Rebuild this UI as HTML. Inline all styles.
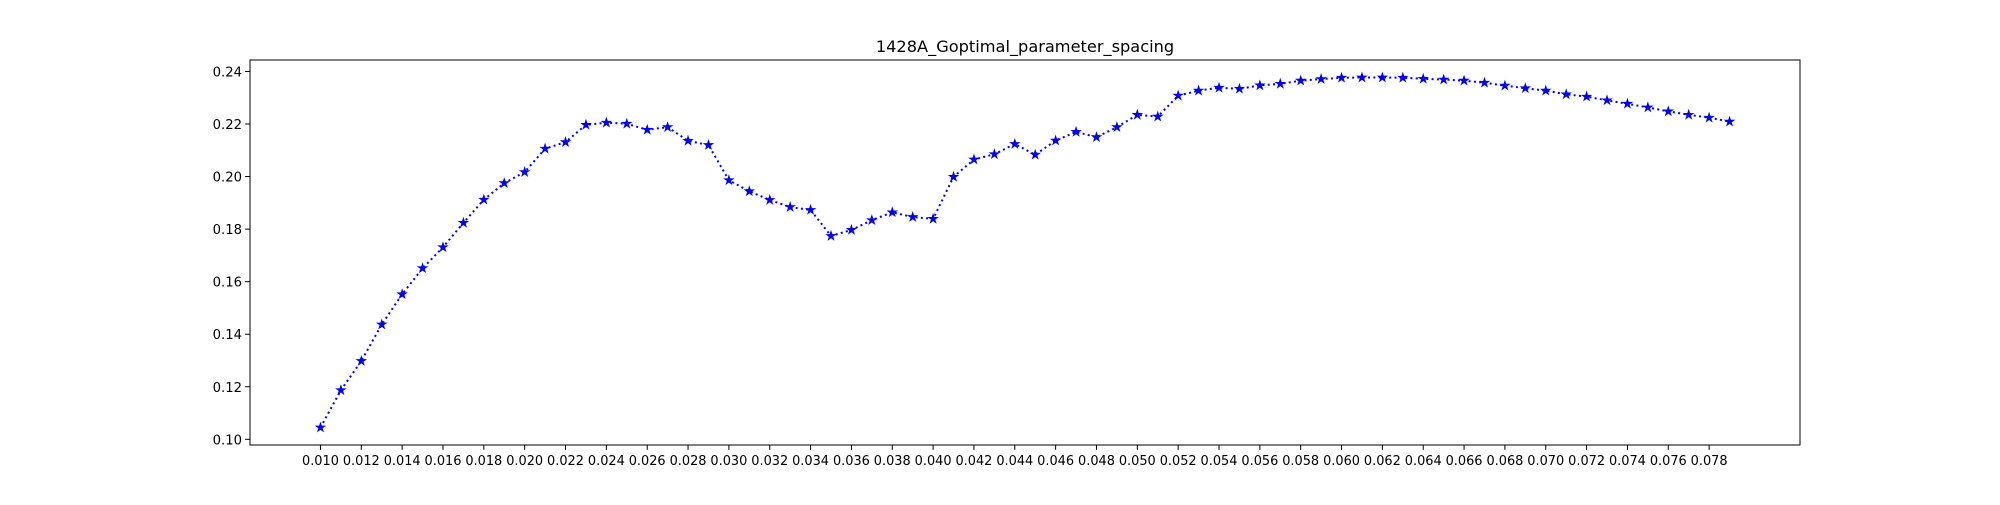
<!DOCTYPE html>
<html><head><meta charset="utf-8"><style>
body{margin:0;background:#fff}
svg text{font-family:"DejaVu Sans","Liberation Sans",sans-serif;fill:#000}
</style></head><body>
<svg id="chart" width="2000" height="500" xmlns="http://www.w3.org/2000/svg">
<rect width="2000" height="500" fill="#fff"/>
<text x="1025" y="52" font-size="16.2" text-anchor="middle">1428A_Goptimal_parameter_spacing</text>
<g id="plot"></g>
<rect x="250" y="60" width="1550" height="385" fill="none" stroke="#000" stroke-width="1"/>
</svg>
<script>
const xValues = [];
for (let i = 10; i <= 79; i++) xValues.push(i / 1000);
const yValues = [0.1045,0.1187,0.1298,0.1437,0.1552,0.1651,0.1731,0.1824,0.1912,0.1975,
0.2017,0.2106,0.2131,0.2197,0.2205,0.2201,0.2178,0.2188,0.2136,0.2120,
0.1986,0.1944,0.1911,0.1884,0.1873,0.1774,0.1797,0.1834,0.1864,0.1846,
0.1839,0.1999,0.2065,0.2085,0.2124,0.2083,0.2137,0.2170,0.2150,0.2188,
0.2235,0.2228,0.2308,0.2327,0.2338,0.2334,0.2347,0.2353,0.2365,0.2371,
0.2376,0.2377,0.2377,0.2376,0.2372,0.2369,0.2365,0.2357,0.2346,0.2336,
0.2327,0.2313,0.2304,0.2290,0.2277,0.2263,0.2248,0.2235,0.2224,0.2209];
const xTicks = [0.010,0.012,0.014,0.016,0.018,0.020,0.022,0.024,0.026,0.028,0.030,0.032,0.034,0.036,0.038,0.040,0.042,0.044,0.046,0.048,0.050,0.052,0.054,0.056,0.058,0.060,0.062,0.064,0.066,0.068,0.070,0.072,0.074,0.076,0.078];
const yTicks = [0.10,0.12,0.14,0.16,0.18,0.20,0.22,0.24];

const L=250,R=1800,T=60,B=445;
const xmin=Math.min(...xValues),xmax=Math.max(...xValues);
const xm=(xmax-xmin)*0.05, x0=xmin-xm, x1=xmax+xm;
const ymin=Math.min(...yValues),ymax=Math.max(...yValues);
const ym=(ymax-ymin)*0.05, y0=ymin-ym, y1=ymax+ym;
const sx=v=>L+(v-x0)/(x1-x0)*(R-L);
const sy=v=>B-(v-y0)/(y1-y0)*(B-T);
const NS="http://www.w3.org/2000/svg";
const g=document.getElementById('plot');
function mk(tag,attrs){const e=document.createElementNS(NS,tag);for(const k in attrs)e.setAttribute(k,attrs[k]);g.appendChild(e);return e;}

xTicks.forEach(t=>{
  const x=sx(t);
  const tk=mk('line',{x1:x,x2:x,y1:B,y2:B+4.9,stroke:'#000','stroke-width':1});
  
  
  const lb=mk('text',{x:x,y:B+20,'font-size':12.9,'text-anchor':'middle'});
  lb.textContent=t.toFixed(3);
  
  
});
yTicks.forEach(t=>{
  const y=sy(t);
  const tk=mk('line',{x1:L-4.9,x2:L,y1:y,y2:y,stroke:'#000','stroke-width':1});
  
  
  const lb=mk('text',{x:L-8,y:y+5,'font-size':13.2,'text-anchor':'end'});
  lb.textContent=t.toFixed(2);
  
  
});
const pts=xValues.map((x,i)=>sx(x).toFixed(2)+','+sy(yValues[i]).toFixed(2)).join(' ');
const line=mk('polyline',{points:pts,fill:'none',stroke:'#0000ff','stroke-width':2,'stroke-dasharray':'2,3.3'});


function star(cx,cy,r){let p=[];for(let k=0;k<10;k++){const a=-Math.PI/2+k*Math.PI/5;const rr=k%2?r*0.38:r;p.push((cx+rr*Math.cos(a)).toFixed(2)+','+(cy+rr*Math.sin(a)).toFixed(2));}return p.join(' ');}
xValues.forEach((x,i)=>{
  const m=mk('polygon',{points:star(sx(x),sy(yValues[i]),4.4),fill:'#0000ff',stroke:'#0000ff','stroke-width':1});
  
  
});
</script>
</body></html>
